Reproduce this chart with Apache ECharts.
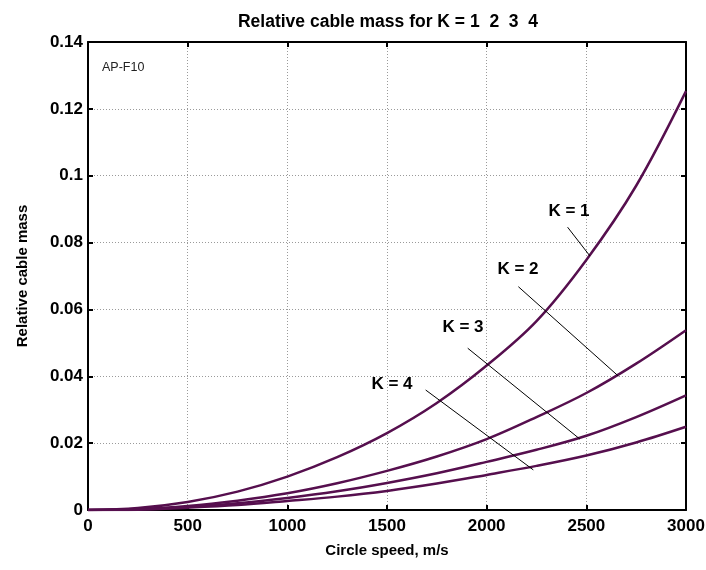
<!DOCTYPE html>
<html>
<head>
<meta charset="utf-8">
<script src="https://cdn.jsdelivr.net/npm/echarts@6/dist/echarts.min.js"></script>
<style>html,body{margin:0;padding:0;background:#fff;}#c{width:706px;height:570px;}</style>
</head>
<body>
<div id="c"></div>
<script>
// Circle speed (m/s)
const speeds = [0, 250, 500, 750, 1000, 1250, 1500, 1750, 2000, 2250, 2500, 2750, 3000];
// Relative cable mass for each K
const massK1 = [0, 0.0006, 0.0024, 0.0055, 0.0100, 0.0158, 0.0230, 0.0320, 0.0432, 0.0565, 0.0748, 0.0970, 0.1253];
const massK2 = [0, 0.0003, 0.0012, 0.0028, 0.0050, 0.0080, 0.0117, 0.0160, 0.0212, 0.0278, 0.0350, 0.0438, 0.0538];
const massK3 = [0, 0.0002, 0.0009, 0.0020, 0.0036, 0.0056, 0.0081, 0.0110, 0.0144, 0.0180, 0.0222, 0.0278, 0.0343];
const massK4 = [0, 0.0001, 0.0007, 0.0015, 0.0027, 0.0040, 0.0057, 0.0079, 0.0105, 0.0132, 0.0163, 0.0202, 0.0249];
const seriesNames = ['K = 1', 'K = 2', 'K = 3', 'K = 4'];
// Tick labels
const xTicks = ['0', '500', '1000', '1500', '2000', '2500', '3000'];
const yTicks = ['0', '0.02', '0.04', '0.06', '0.08', '0.1', '0.12', '0.14'];
// Annotation label anchors (data coords) and leader lines [start, end]
const labelPos = [[2413, 0.0894], [2157, 0.0721], [1881, 0.0547], [1525, 0.0377]];
const leaders = [
  [[2406, 0.0846], [2518, 0.0760]],
  [[2159, 0.0668], [2660, 0.0401]],
  [[1905, 0.0484], [2468, 0.0212]],
  [[1694, 0.0359], [2234, 0.0120]]
];
const titleText = 'Relative cable mass for K = 1  2  3  4';
const noteText = 'AP-F10';

const curveColor = '#560f4e';
const font = 'Liberation Sans, Arial, sans-serif';
const allMass = [massK1, massK2, massK3, massK4];

const series = [];
allMass.forEach((m, i) => {
  series.push({
    name: seriesNames[i], type: 'line', smooth: 0.35,
    symbol: 'none', data: speeds.map((s, j) => [s, m[j]]),
    lineStyle: { color: curveColor, width: 2.5 }, z: 3
  });
});
leaders.forEach((l) => {
  series.push({
    type: 'line', symbol: 'none', data: l, silent: true,
    lineStyle: { color: '#000', width: 1 }, z: 4
  });
});
series.push({
  type: 'scatter', symbolSize: 1, silent: true,
  itemStyle: { opacity: 1, color: 'rgba(0,0,0,0)' },
  data: labelPos.map((p, i) => ({ value: p, name: seriesNames[i] })),
  label: { show: true, position: 'inside', formatter: '{b}', color: '#000', opacity: 1,
           fontFamily: font, fontWeight: 'bold', fontSize: 17 }
});

const xMin = parseFloat(xTicks[0]);
const xMax = parseFloat(xTicks[xTicks.length - 1]);
const xInt = parseFloat(xTicks[1]) - xMin;
const yMax = parseFloat(yTicks[yTicks.length - 1]);
const yInt = parseFloat(yTicks[1]);

const gridLine = { show: true, lineStyle: { color: '#9a9a9a', type: [1, 2], width: 1 } };
const axisLineS = { show: true, onZero: false, lineStyle: { color: '#000', width: 2 } };
const tickS = { show: true, inside: true, length: 5, lineStyle: { color: '#000', width: 2 } };
const nameS = { fontFamily: font, fontWeight: 'bold', fontSize: 15, color: '#000' };
const labelS = { fontFamily: font, fontWeight: 'bold', fontSize: 17, color: '#000' };

const chart = echarts.init(document.getElementById('c'), null, { renderer: 'canvas' });
chart.setOption({
  animation: false,
  backgroundColor: '#fff',
  title: { text: titleText, left: 383, top: 8, textAlign: 'center',
           textStyle: { fontFamily: font, fontWeight: 'bold', fontSize: 17.5, color: '#000' } },
  grid: { left: 88, right: 20, top: 42, bottom: 60, containLabel: false, outerBoundsMode: 'none' },
  xAxis: [
    { type: 'value', min: xMin, max: xMax, interval: xInt,
      name: 'Circle speed, m/s', nameLocation: 'middle', nameGap: 33,
      nameTextStyle: nameS, axisLine: axisLineS, axisTick: tickS,
      axisLabel: Object.assign({ margin: 8, formatter: (v) => xTicks[Math.round((v - xMin) / xInt)] }, labelS),
      splitLine: gridLine },
    { type: 'value', position: 'top', min: xMin, max: xMax, interval: xInt,
      axisLine: axisLineS, axisTick: tickS, axisLabel: { show: false }, splitLine: { show: false } }
  ],
  yAxis: [
    { type: 'value', min: 0, max: yMax, interval: yInt,
      name: 'Relative cable mass', nameLocation: 'middle', nameGap: 58,
      nameTextStyle: nameS, axisLine: axisLineS, axisTick: tickS,
      axisLabel: Object.assign({ margin: 5, formatter: (v) => yTicks[Math.round(v / yInt)] }, labelS),
      splitLine: gridLine },
    { type: 'value', position: 'right', min: 0, max: yMax, interval: yInt,
      axisLine: axisLineS, axisTick: tickS, axisLabel: { show: false }, splitLine: { show: false } }
  ],
  graphic: [
    { type: 'text', left: 102, top: 61,
      style: { text: noteText, fontFamily: font, fontSize: 12.5, fill: '#222' } }
  ],
  series: series
});
</script>
</body>
</html>
